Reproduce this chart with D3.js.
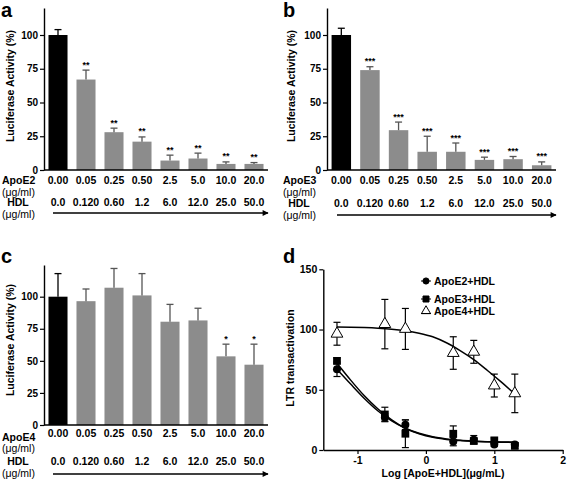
<!DOCTYPE html>
<html><head><meta charset="utf-8">
<script src="https://cdn.jsdelivr.net/npm/d3@7"></script>
<style>
body{margin:0;background:#fff;}
svg{display:block;font-family:"Liberation Sans",Arial,sans-serif;font-weight:bold;}
</style></head>
<body><svg id="c" width="567" height="483"></svg>
<script>
// ---- data ----
const apoeConc = ["0.00","0.05","0.25","0.50","2.5","5.0","10.0","20.0"];
const hdlConc  = ["0.0","0.120","0.60","1.2","6.0","12.0","25.0","50.0"];
const yTicksBar = [0,25,50,75,100];

const apoE2Mean = [100,67,28,21,7,8.5,4.5,4.5];
const apoE2Err  = [4,7,3,3.5,4,4,1.5,1];
const apoE2Sig  = ["","**","**","**","**","**","**","**"];

const apoE3Mean = [100,74,29.5,13.5,13.5,7.5,8,3.5];
const apoE3Err  = [5,2.5,6,11.5,6.5,2,2,2.5];
const apoE3Sig  = ["","***","***","***","***","***","***","***"];

const apoE4Mean = [100,96.5,107,101,80.5,81.5,53.5,47];
const apoE4Err  = [18,9.5,15,17,13.5,9.5,9.5,16];
const apoE4Sig  = ["","","","","","","*","*"];

// panel d
const dLogX = [-1.3,-0.6,-0.3,0.4,0.7,1.0,1.3];
const dE2 = [67,27,21,7,8.5,4.5,4.5];
const dE2Err = [6,3,4,3.5,3.5,1.5,1];
const dE3 = [74,29.5,13.5,13.5,7.5,8,3.5];
const dE3Err = [2.5,6,11.5,6.5,2,2,2.5];
const dE4 = [96.5,104.5,100.5,80.5,81.5,53.5,47];
const dE4Err = [9.5,20.5,17,13.5,9.5,9.5,16];
const fitX  = [-1.3,-1.1,-0.9,-0.7,-0.5,-0.3,-0.1,0.1,0.3,0.5,0.7,0.9,1.1,1.3];
const fitE2 = [67,54.7,42.8,32.4,24.2,18.1,13.9,11.0,9.2,8.0,7.3,6.8,6.5,6.3];
const fitE3 = [72,58,45,34,25,18,13.5,10.5,8.8,7.8,7.2,6.9,6.7,6.5];
const fitE4 = [102,101.9,101.6,101.1,100.3,99,97,94,89,82.5,75,66,56.5,46.5];
const dXTicks = [-1,0,1,2];
const dYTicks = [0,50,100,150];
const legendLabels = ["ApoE2+HDL","ApoE3+HDL","ApoE4+HDL"];

// ---- drawing ----
const svg = d3.select("#c");
const defs = svg.append("defs");
defs.append("marker").attr("id","arr").attr("viewBox","0 0 10 10")
  .attr("refX",9).attr("refY",5).attr("markerWidth",7).attr("markerHeight",6)
  .attr("markerUnits","userSpaceOnUse").attr("orient","auto")
  .append("path").attr("d","M0,0L10,5L0,10Z").attr("fill","#000");

const GRAY = "#8c8c8c";

function barPanel(o){
  const g = svg.append("g");
  const x = d3.scaleBand().domain(apoeConc).range([o.x0,o.x1]).paddingInner(0.32).paddingOuter(0.16);
  const y = d3.scaleLinear().domain([0,o.ymax]).range([o.y0,o.ytop]);
  g.selectAll("rect.bar").data(o.mean).join("rect")
    .attr("x",(d,i)=>x(apoeConc[i])).attr("width",x.bandwidth())
    .attr("y",d=>y(d)).attr("height",d=>y(0)-y(d))
    .attr("fill",(d,i)=>i===0?"#000":GRAY);
  o.mean.forEach((m,i)=>{
    const cx = x(apoeConc[i])+x.bandwidth()/2;
    const col = i===0?"#000":"#555";
    g.append("line").attr("x1",cx).attr("x2",cx).attr("y1",y(m)).attr("y2",y(m+o.err[i]))
      .attr("stroke",col).attr("stroke-width",1.3);
    g.append("line").attr("x1",cx-3.5).attr("x2",cx+3.5).attr("y1",y(m+o.err[i])).attr("y2",y(m+o.err[i]))
      .attr("stroke",col).attr("stroke-width",1.3);
    if(o.sig[i]) g.append("text").attr("x",cx).attr("y",y(m+o.err[i])-2.5)
      .attr("text-anchor","middle").attr("font-size",9).text(o.sig[i]);
  });
  const ya = g.append("g").attr("transform",`translate(${o.x0},0)`)
    .call(d3.axisLeft(y).tickValues(yTicksBar).tickSize(4).tickSizeOuter(0).tickPadding(2));
  ya.select(".domain").attr("stroke-width",1.4);
  ya.selectAll(".tick line").attr("stroke-width",1.2);
  ya.selectAll("text").attr("font-size",10).attr("font-family","Liberation Sans, Arial, sans-serif").attr("font-weight","bold");
  g.append("line").attr("x1",o.x0).attr("x2",o.x1).attr("y1",y(0)).attr("y2",y(0))
    .attr("stroke","#000").attr("stroke-width",1.4);
  g.append("text").attr("transform",`translate(${o.titleX},${o.titleY}) rotate(-90)`)
    .attr("text-anchor","middle").attr("font-size",10.5).text("Luciferase Activity (%)");
  g.append("text").attr("x",o.letterX).attr("y",o.letterY).attr("font-size",20).text(o.letter);
  apoeConc.forEach((c,i)=>{
    g.append("text").attr("x",x(c)+x.bandwidth()/2).attr("y",o.row1).attr("text-anchor","middle")
      .attr("font-size",10.5).text(c);
    g.append("text").attr("x",x(c)+x.bandwidth()/2).attr("y",o.row2).attr("text-anchor","middle")
      .attr("font-size",10.5).text(hdlConc[i]);
  });
  g.append("text").attr("x",o.labX).attr("y",o.row1+o.nameDy).attr("font-size",10.5).text(o.name);
  g.append("text").attr("x",o.labX).attr("y",o.row1+o.nameDy+11.5).attr("font-size",10.5).attr("font-weight","normal").text("(\u03bcg/ml)");
  g.append("text").attr("x",o.labX+16).attr("y",o.row2).attr("text-anchor","middle").attr("font-size",10.5).text("HDL");
  g.append("text").attr("x",o.labX).attr("y",o.row2+11.5).attr("font-size",10.5).attr("font-weight","normal").text("(\u03bcg/ml)");
  g.append("line").attr("x1",o.arrX0).attr("x2",o.x1).attr("y1",o.arrY).attr("y2",o.arrY)
    .attr("stroke","#000").attr("stroke-width",1.3).attr("marker-end","url(#arr)");
}

barPanel({x0:44,x1:268,y0:170,ytop:8,ymax:120,mean:apoE2Mean,err:apoE2Err,sig:apoE2Sig,
  titleX:14,titleY:86,letter:"a",letterX:1,letterY:17,row1:184,row2:206,name:"ApoE2",nameDy:0,labX:2,arrX0:53,arrY:213});
barPanel({x0:327,x1:556,y0:170,ytop:8,ymax:120,mean:apoE3Mean,err:apoE3Err,sig:apoE3Sig,
  titleX:295,titleY:86,letter:"b",letterX:283,letterY:17,row1:184,row2:207,name:"ApoE3",nameDy:0,labX:283,arrX0:337,arrY:215});
barPanel({x0:44,x1:268,y0:425,ytop:265,ymax:124.7,mean:apoE4Mean,err:apoE4Err,sig:apoE4Sig,
  titleX:14,titleY:340,letter:"c",letterX:1,letterY:263,row1:437,row2:465,name:"ApoE4",nameDy:3.5,labX:2,arrX0:53,arrY:474});

// ---- panel d ----
(function(){
  const g = svg.append("g");
  const x = d3.scaleLinear().domain([-1.5,2]).range([323.3,562.7]);
  const y = d3.scaleLinear().domain([0,150]).range([450,269.3]);
  const xa = g.append("g").attr("transform","translate(0,450)")
    .call(d3.axisBottom(x).tickValues(dXTicks).tickSize(4).tickSizeOuter(0).tickPadding(3).tickFormat(d3.format("d")));
  const ya = g.append("g").attr("transform","translate(323.3,0)")
    .call(d3.axisLeft(y).tickValues(dYTicks).tickSize(4).tickSizeOuter(0).tickPadding(2));
  [xa,ya].forEach(a=>{
    a.select(".domain").attr("stroke-width",1.4);
    a.selectAll(".tick line").attr("stroke-width",1.2);
    a.selectAll("text").attr("font-size",10.5).attr("font-family","Liberation Sans, Arial, sans-serif").attr("font-weight","bold");
  });
  xa.selectAll("text").text(d=>d<0?"-"+Math.abs(d):d);
  g.append("text").attr("transform","translate(294,358) rotate(-90)").attr("text-anchor","middle")
    .attr("font-size",10.5).text("LTR transactivation");
  g.append("text").attr("x",443).attr("y",477).attr("text-anchor","middle").attr("font-size",10.5)
    .text("Log [ApoE+HDL](\u03bcg/mL)");
  g.append("text").attr("x",283).attr("y",263).attr("font-size",20).text("d");

  const line = d3.line().x(d=>x(d[0])).y(d=>y(d[1])).curve(d3.curveMonotoneX);
  [fitE2,fitE3,fitE4].forEach(f=>{
    g.append("path").attr("d",line(fitX.map((v,i)=>[v,f[i]]))).attr("fill","none")
      .attr("stroke","#000").attr("stroke-width",1.5);
  });
  function errs(vals,err){
    vals.forEach((v,i)=>{
      const cx=x(dLogX[i]);
      g.append("line").attr("x1",cx).attr("x2",cx).attr("y1",y(v-err[i])).attr("y2",y(v+err[i])).attr("stroke","#000").attr("stroke-width",1.2);
      [v-err[i],v+err[i]].forEach(e=>g.append("line").attr("x1",cx-3.5).attr("x2",cx+3.5).attr("y1",y(e)).attr("y2",y(e)).attr("stroke","#000").attr("stroke-width",1.2));
    });
  }
  errs(dE4,dE4Err); errs(dE2,dE2Err); errs(dE3,dE3Err);
  const circ = d3.symbol().type(d3.symbolCircle).size(50);
  const sq = d3.symbol().type(d3.symbolSquare).size(60);
  const tri = d3.symbol().type(d3.symbolTriangle).size(60);
  dE2.forEach((v,i)=>g.append("path").attr("d",circ()).attr("transform",`translate(${x(dLogX[i])},${y(v)})`).attr("fill","#000"));
  dE3.forEach((v,i)=>g.append("path").attr("d",sq()).attr("transform",`translate(${x(dLogX[i])},${y(v)})`).attr("fill","#000"));
  dE4.forEach((v,i)=>g.append("path").attr("d",tri()).attr("transform",`translate(${x(dLogX[i])},${y(v)})`).attr("fill","#fff").attr("stroke","#000").attr("stroke-width",1));
  const ly=[281,299,311];
  const syms=[d3.symbol().type(d3.symbolCircle).size(30),d3.symbol().type(d3.symbolSquare).size(36),d3.symbol().type(d3.symbolTriangle).size(36)];
  legendLabels.forEach((t,i)=>{
    g.append("path").attr("d",syms[i]()).attr("transform",`translate(426,${ly[i]})`)
      .attr("fill",i===2?"#fff":"#000").attr("stroke","#000").attr("stroke-width",1);
    g.append("line").attr("x1",421).attr("x2",431).attr("y1",ly[i]+(i===2?2.5:0)).attr("y2",ly[i]+(i===2?2.5:0)).attr("stroke","#000").attr("stroke-width",1);
    g.append("text").attr("x",434).attr("y",ly[i]+4).attr("font-size",10.5).text(t);
  });
})();
</script></body></html>
